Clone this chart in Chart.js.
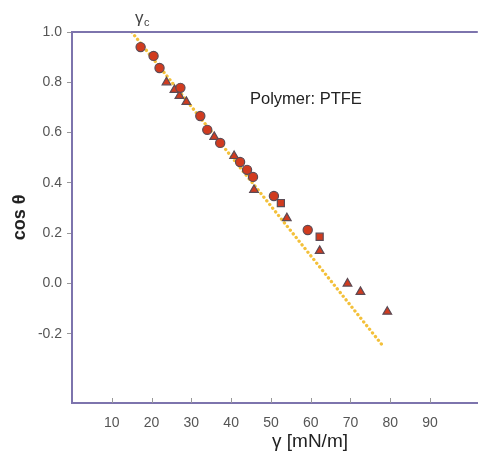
<!DOCTYPE html>
<html>
<head>
<meta charset="utf-8">
<script src="https://cdn.jsdelivr.net/npm/chart.js@4"></script>
<style>
html,body{margin:0;padding:0;background:#fff;}
#wrap{width:484px;height:455px;}
</style>
</head>
<body>
<div id="wrap"><canvas id="c" width="484" height="455"></canvas></div>
<script>
// Data
const circleX = [17.25, 20.5, 22.0, 27.25, 32.25, 34.0, 37.25, 42.25, 44.0, 45.5, 50.75, 59.25];
const circleY = [0.94, 0.905, 0.857, 0.778, 0.666, 0.611, 0.559, 0.483, 0.452, 0.424, 0.348, 0.213];
const triX = [23.75, 25.75, 27.0, 28.75, 35.75, 40.75, 45.75, 54.0, 62.25, 69.25, 72.5, 79.25];
const triY = [0.80, 0.77, 0.746, 0.722, 0.583, 0.507, 0.372, 0.26, 0.13, 0.0, -0.033, -0.112];
const sqX = [52.5, 62.25];
const sqY = [0.32, 0.186];
const fitX = [15, 78.25];
const fitY = [1.0, -0.25];
const xTicks = [10, 20, 30, 40, 50, 60, 70, 80, 90];
const yTicks = [-0.2, 0.0, 0.2, 0.4, 0.6, 0.8, 1.0];

const zip = (xs, ys) => xs.map((x, i) => ({x: x, y: ys[i]}));
const FONT = "'Liberation Sans', Arial, sans-serif";
const AXIS = '#7d74ad';
const FILL = '#d13b1f';
const EDGE = '#5c4b55';

const decor = {
  id: 'decor',
  afterDraw(chart) {
    const ctx = chart.ctx, a = chart.chartArea, xs = chart.scales.x;
    ctx.save();
    // top frame line
    ctx.strokeStyle = AXIS; ctx.lineWidth = 2;
    ctx.beginPath(); ctx.moveTo(a.left, a.top); ctx.lineTo(a.right, a.top); ctx.stroke();
    // inside tick marks on x axis
    ctx.strokeStyle = '#999'; ctx.lineWidth = 1;
    xTicks.forEach(v => {
      const px = Math.round(xs.getPixelForValue(v)) + 0.5;
      ctx.beginPath(); ctx.moveTo(px, a.bottom); ctx.lineTo(px, a.bottom - 5); ctx.stroke();
    });
    // x title
    ctx.fillStyle = '#222';
    ctx.font = '19px ' + FONT;
    ctx.textAlign = 'center'; ctx.textBaseline = 'middle';
    ctx.fillText('γ [mN/m]', 310, 442);
    // annotation
    ctx.font = '16.5px ' + FONT;
    ctx.textAlign = 'left';
    ctx.fillText('Polymer: PTFE', 250, 99);
    // gamma_c label
    ctx.fillStyle = '#444';
    ctx.font = '17px ' + FONT;
    ctx.textAlign = 'left'; ctx.textBaseline = 'alphabetic';
    ctx.fillText('γ', 135, 23);
    ctx.font = '11px ' + FONT;
    ctx.fillText('c', 144, 26);
    ctx.restore();
  }
};

new Chart(document.getElementById('c'), {
  type: 'scatter',
  data: {
    datasets: [
      {
        type: 'line', label: 'fit', data: zip(fitX, fitY), order: 10,
        borderColor: '#f3c03a', borderWidth: 3.3, borderDash: [0.1, 4.6], borderCapStyle: 'round',
        pointRadius: 0, fill: false, tension: 0
      },
      {
        label: 'circles', data: zip(circleX, circleY), order: 1,
        pointStyle: 'circle', pointRadius: 4.6, backgroundColor: FILL, borderColor: EDGE, borderWidth: 1.2
      },
      {
        label: 'triangles', data: zip(triX, triY), order: 1,
        pointStyle: 'triangle', pointRadius: 5, backgroundColor: FILL, borderColor: EDGE, borderWidth: 1.2
      },
      {
        label: 'squares', data: zip(sqX, sqY), order: 1,
        pointStyle: 'rect', pointRadius: 5, backgroundColor: FILL, borderColor: EDGE, borderWidth: 1.2
      }
    ]
  },
  options: {
    responsive: false,
    animation: false,
    events: [],
    layout: {padding: {top: 32, right: 0, left: 0, bottom: 0}},
    plugins: {legend: {display: false}, tooltip: {enabled: false}},
    scales: {
      x: {
        type: 'linear', min: 0, max: 102,
        afterBuildTicks: ax => { ax.ticks = xTicks.map(v => ({value: v})); },
        afterFit: ax => { ax.height = 52; },
        border: {display: true, color: AXIS, width: 2},
        grid: {drawOnChartArea: false, drawTicks: false},
        ticks: {color: '#555', font: {family: FONT, size: 14}, padding: 12, maxRotation: 0,
                callback: v => String(v)},
        title: {display: false}
      },
      y: {
        type: 'linear', min: -0.475, max: 1.0,
        afterBuildTicks: ax => { ax.ticks = yTicks.map(v => ({value: v})); },
        afterFit: ax => { ax.width = 72; },
        border: {display: true, color: AXIS, width: 2},
        grid: {drawOnChartArea: false, drawTicks: true, tickLength: 5, color: '#999'},
        ticks: {color: '#555', font: {family: FONT, size: 14}, padding: 5,
                callback: v => v.toFixed(1)},
        title: {display: true, text: 'cos θ', color: '#222',
                font: {family: FONT, size: 18, weight: 'bold'}, padding: {top: 9, bottom: 0}}
      }
    }
  },
  plugins: [decor]
});
</script>
</body>
</html>
